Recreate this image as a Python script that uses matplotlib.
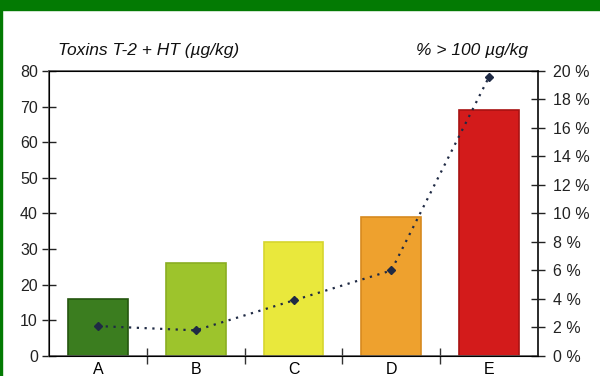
import matplotlib
matplotlib.use("Agg")
import matplotlib.pyplot as plt
from matplotlib.patches import Rectangle

plt.rcParams['font.family'] = ['Liberation Sans', 'DejaVu Sans']

# donnees
categories = ['A', 'B', 'C', 'D', 'E']
toxins = [16, 26, 32, 39, 69]            # µg/kg
pct_over_100 = [2.1, 1.8, 3.9, 6.0, 19.6]  # %
bar_colors = ['#3b7d1f', '#9dc42c', '#e9e83c', '#eea12e', '#d31b1b']
edge_colors = ['#25560f', '#8aae22', '#d6d52e', '#d78a1f', '#a81212']
left_ticks = list(range(0, 81, 10))
right_ticks = list(range(0, 21, 2))

fig = plt.figure(figsize=(6, 3.76), dpi=100)
# cadre vert
fig.patches.append(Rectangle((0, 0.973), 1, 0.027, transform=fig.transFigure, color='#037a03', zorder=0))
fig.patches.append(Rectangle((0, 0), 0.004, 1, transform=fig.transFigure, color='#037a03', zorder=0))

ax = fig.add_axes([0.0817, 0.0532, 0.815, 0.758])
xs = list(range(len(categories)))
ax.bar(xs, toxins, width=0.61, color=bar_colors, edgecolor=edge_colors, linewidth=1.2, zorder=2)
ax.set_xlim(-0.5, 4.5)
ax.set_ylim(0, 80)
ax.set_yticks(left_ticks)
ax.tick_params(axis='y', direction='inout', length=10, width=1, labelsize=11.5, colors='#222222', pad=3)
ax.set_xticks([0.5, 1.5, 2.5, 3.5])
ax.set_xticklabels([])
ax.set_xticks(xs, minor=True)
ax.set_xticklabels(categories, minor=True)
ax.tick_params(axis='x', which='major', direction='inout', length=12, width=1, colors='#333333')
ax.tick_params(axis='x', which='minor', length=0, labelsize=11.5, pad=4)
for s in ['left', 'bottom', 'top', 'right']:
    ax.spines[s].set_color('#555555')
    ax.spines[s].set_linewidth(1.2)

ax2 = ax.twinx()
ax2.plot(xs, pct_over_100, linestyle=(0, (1, 2.5)), color='#1f2a44', linewidth=1.6,
         marker='D', markersize=4.5, zorder=3)
ax2.set_ylim(0, 20)
ax2.set_yticks(right_ticks)
ax2.set_yticklabels([f'{t} %' for t in right_ticks])
ax2.tick_params(axis='y', direction='inout', length=10, width=1, labelsize=11.5, colors='#222222', pad=6)
ax2.spines['right'].set_color('#222222')
ax2.spines['right'].set_linewidth(1.2)

fig.text(0.097, 0.855, 'Toxins T-2 + HT (µg/kg)', fontsize=12.5, style='italic', color='#111111')
fig.text(0.88, 0.855, '% > 100 µg/kg', fontsize=12.5, style='italic', color='#111111', ha='right')

fig.savefig('out.png', dpi=100)
